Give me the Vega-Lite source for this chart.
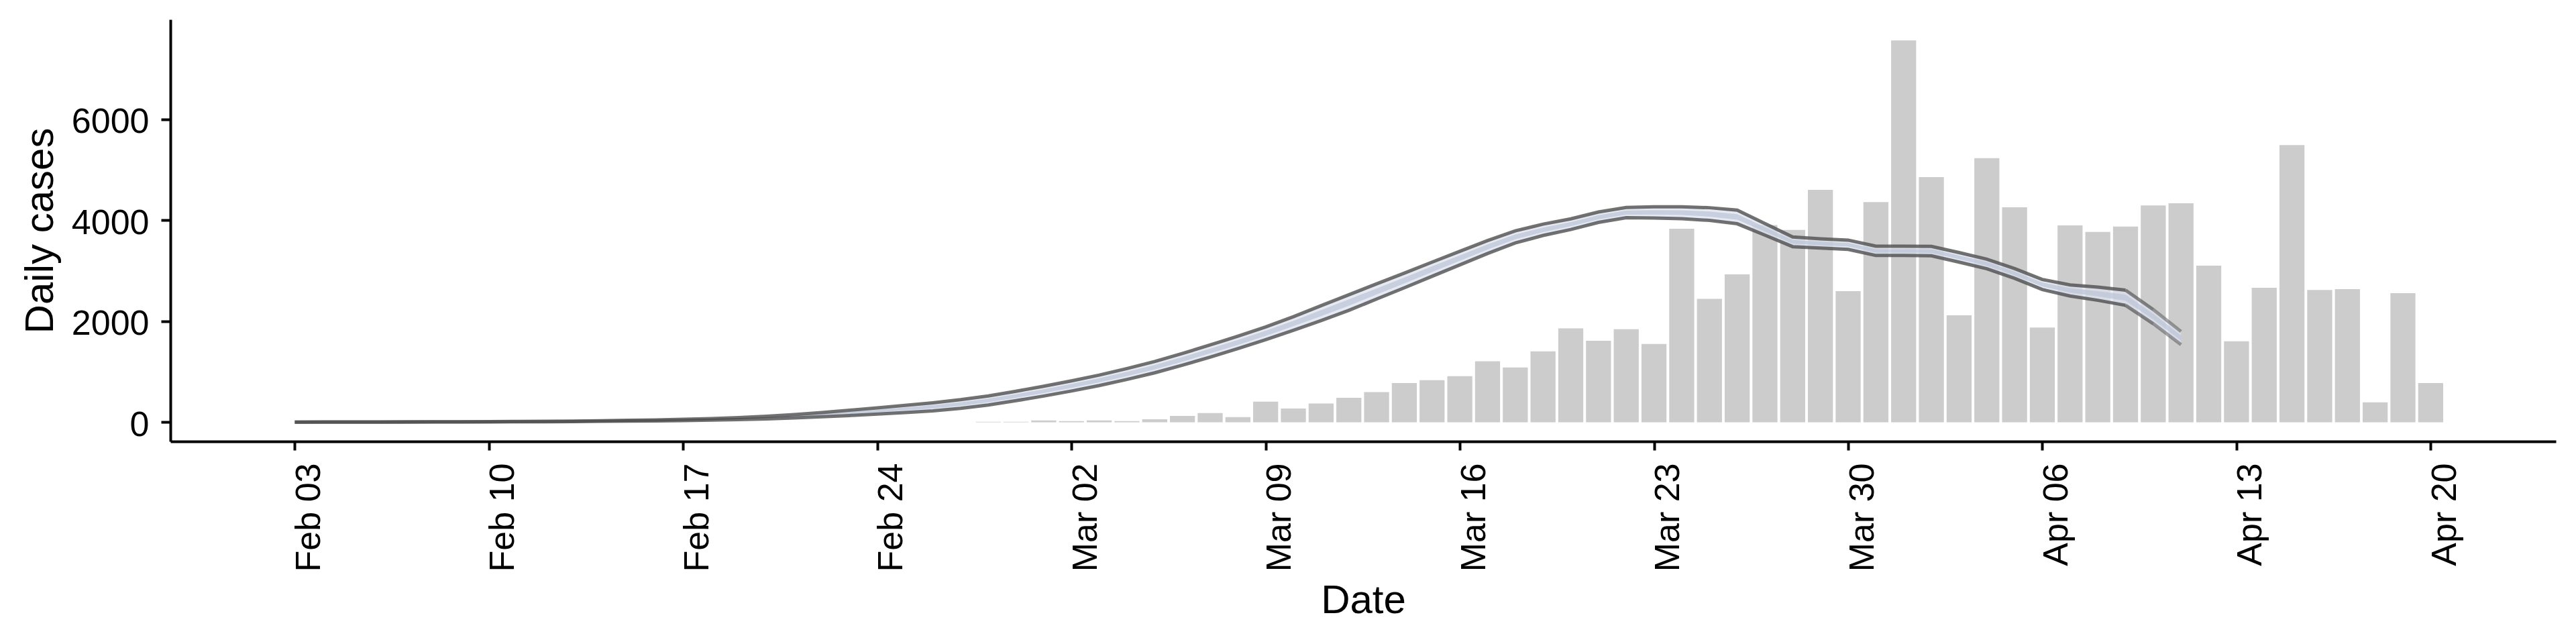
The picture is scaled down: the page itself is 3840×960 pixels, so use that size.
{
  "$schema": "https://vega.github.io/schema/vega-lite/v6.json",
  "width": 3556,
  "height": 629,
  "autosize": {"type": "none"},
  "padding": {"left": 254, "top": 29, "right": 30, "bottom": 302},
  "background": "white",
  "config": {
    "view": {"stroke": null},
    "font": "Liberation Sans",
    "axis": {
      "grid": false,
      "domainColor": "black",
      "domainWidth": 4,
      "tickColor": "black",
      "tickWidth": 4,
      "tickSize": 14,
      "labelFont": "Liberation Sans",
      "labelFontSize": 52,
      "labelColor": "black",
      "titleFont": "Liberation Sans",
      "titleFontSize": 60,
      "titleFontWeight": "normal",
      "titleColor": "black"
    }
  },
  "datasets": {
    "band": [
      {"date": "2020-02-03", "seg": "a", "lo95": 1, "hi95": 3, "lo50": 1.6, "hi50": 2.4},
      {"date": "2020-02-04", "seg": "a", "lo95": 2, "hi95": 4, "lo50": 2.6, "hi50": 3.4},
      {"date": "2020-02-05", "seg": "a", "lo95": 2, "hi95": 4, "lo50": 2.6, "hi50": 3.4},
      {"date": "2020-02-06", "seg": "a", "lo95": 3, "hi95": 5, "lo50": 3.6, "hi50": 4.4},
      {"date": "2020-02-07", "seg": "a", "lo95": 3, "hi95": 7, "lo50": 4.2, "hi50": 5.8},
      {"date": "2020-02-08", "seg": "a", "lo95": 4, "hi95": 8, "lo50": 5.2, "hi50": 6.8},
      {"date": "2020-02-09", "seg": "a", "lo95": 5, "hi95": 9, "lo50": 6.2, "hi50": 7.8},
      {"date": "2020-02-10", "seg": "a", "lo95": 6, "hi95": 12, "lo50": 7.8, "hi50": 10.2},
      {"date": "2020-02-11", "seg": "a", "lo95": 8, "hi95": 14, "lo50": 9.8, "hi50": 12.2},
      {"date": "2020-02-12", "seg": "a", "lo95": 10, "hi95": 18, "lo50": 12.4, "hi50": 15.6},
      {"date": "2020-02-13", "seg": "a", "lo95": 13, "hi95": 23, "lo50": 16, "hi50": 20},
      {"date": "2020-02-14", "seg": "a", "lo95": 17, "hi95": 29, "lo50": 20.6, "hi50": 25.4},
      {"date": "2020-02-15", "seg": "a", "lo95": 21, "hi95": 37, "lo50": 25.8, "hi50": 32.2},
      {"date": "2020-02-16", "seg": "a", "lo95": 26, "hi95": 46, "lo50": 32, "hi50": 40},
      {"date": "2020-02-17", "seg": "a", "lo95": 32, "hi95": 58, "lo50": 39.8, "hi50": 50.2},
      {"date": "2020-02-18", "seg": "a", "lo95": 41, "hi95": 73, "lo50": 50.6, "hi50": 63.4},
      {"date": "2020-02-19", "seg": "a", "lo95": 52, "hi95": 92, "lo50": 64, "hi50": 80},
      {"date": "2020-02-20", "seg": "a", "lo95": 66, "hi95": 118, "lo50": 81.6, "hi50": 102.4},
      {"date": "2020-02-21", "seg": "a", "lo95": 85, "hi95": 151, "lo50": 104.8, "hi50": 131.2},
      {"date": "2020-02-22", "seg": "a", "lo95": 108, "hi95": 192, "lo50": 133.2, "hi50": 166.8},
      {"date": "2020-02-23", "seg": "a", "lo95": 133, "hi95": 237, "lo50": 164.2, "hi50": 205.8},
      {"date": "2020-02-24", "seg": "a", "lo95": 160, "hi95": 284, "lo50": 197.2, "hi50": 246.8},
      {"date": "2020-02-25", "seg": "a", "lo95": 190, "hi95": 334, "lo50": 233.2, "hi50": 290.8},
      {"date": "2020-02-26", "seg": "a", "lo95": 225, "hi95": 385, "lo50": 273, "hi50": 337},
      {"date": "2020-02-27", "seg": "a", "lo95": 274, "hi95": 446, "lo50": 325.6, "hi50": 394.4},
      {"date": "2020-02-28", "seg": "a", "lo95": 340, "hi95": 520, "lo50": 394, "hi50": 466},
      {"date": "2020-02-29", "seg": "a", "lo95": 426, "hi95": 614, "lo50": 482.4, "hi50": 557.6},
      {"date": "2020-03-01", "seg": "a", "lo95": 518, "hi95": 712, "lo50": 576.2, "hi50": 653.8},
      {"date": "2020-03-02", "seg": "a", "lo95": 618, "hi95": 818, "lo50": 678, "hi50": 758},
      {"date": "2020-03-03", "seg": "a", "lo95": 726, "hi95": 934, "lo50": 788.4, "hi50": 871.6},
      {"date": "2020-03-04", "seg": "a", "lo95": 847, "hi95": 1063, "lo50": 911.8, "hi50": 998.2},
      {"date": "2020-03-05", "seg": "a", "lo95": 978, "hi95": 1202, "lo50": 1045.2, "hi50": 1134.8},
      {"date": "2020-03-06", "seg": "a", "lo95": 1129, "hi95": 1361, "lo50": 1198.6, "hi50": 1291.4},
      {"date": "2020-03-07", "seg": "a", "lo95": 1290, "hi95": 1530, "lo50": 1362, "hi50": 1458},
      {"date": "2020-03-08", "seg": "a", "lo95": 1457, "hi95": 1703, "lo50": 1530.8, "hi50": 1629.2},
      {"date": "2020-03-09", "seg": "a", "lo95": 1634, "hi95": 1886, "lo50": 1709.6, "hi50": 1810.4},
      {"date": "2020-03-10", "seg": "a", "lo95": 1820, "hi95": 2090, "lo50": 1901, "hi50": 2009},
      {"date": "2020-03-11", "seg": "a", "lo95": 2012, "hi95": 2308, "lo50": 2100.8, "hi50": 2219.2},
      {"date": "2020-03-12", "seg": "a", "lo95": 2215, "hi95": 2525, "lo50": 2308, "hi50": 2432},
      {"date": "2020-03-13", "seg": "a", "lo95": 2440, "hi95": 2740, "lo50": 2530, "hi50": 2650},
      {"date": "2020-03-14", "seg": "a", "lo95": 2662, "hi95": 2952, "lo50": 2749, "hi50": 2865},
      {"date": "2020-03-15", "seg": "a", "lo95": 2890, "hi95": 3170, "lo50": 2974, "hi50": 3086},
      {"date": "2020-03-16", "seg": "a", "lo95": 3115, "hi95": 3385, "lo50": 3196, "hi50": 3304},
      {"date": "2020-03-17", "seg": "a", "lo95": 3342, "hi95": 3598, "lo50": 3418.8, "hi50": 3521.2},
      {"date": "2020-03-18", "seg": "a", "lo95": 3550, "hi95": 3790, "lo50": 3622, "hi50": 3718},
      {"date": "2020-03-19", "seg": "a", "lo95": 3698, "hi95": 3922, "lo50": 3765.2, "hi50": 3854.8},
      {"date": "2020-03-20", "seg": "a", "lo95": 3816, "hi95": 4028, "lo50": 3879.6, "hi50": 3964.4},
      {"date": "2020-03-21", "seg": "a", "lo95": 3957, "hi95": 4163, "lo50": 4018.8, "hi50": 4101.2},
      {"date": "2020-03-22", "seg": "a", "lo95": 4049, "hi95": 4253, "lo50": 4110.2, "hi50": 4191.8},
      {"date": "2020-03-23", "seg": "a", "lo95": 4045, "hi95": 4265, "lo50": 4111, "hi50": 4199},
      {"date": "2020-03-24", "seg": "a", "lo95": 4032, "hi95": 4266, "lo50": 4102.2, "hi50": 4195.8},
      {"date": "2020-03-25", "seg": "a", "lo95": 3996, "hi95": 4248, "lo50": 4071.6, "hi50": 4172.4},
      {"date": "2020-03-26", "seg": "a", "lo95": 3930, "hi95": 4200, "lo50": 4011, "hi50": 4119},
      {"date": "2020-03-27", "seg": "a", "lo95": 3705, "hi95": 3935, "lo50": 3774, "hi50": 3866},
      {"date": "2020-03-28", "seg": "a", "lo95": 3477, "hi95": 3667, "lo50": 3534, "hi50": 3610},
      {"date": "2020-03-29", "seg": "a", "lo95": 3448, "hi95": 3632, "lo50": 3503.2, "hi50": 3576.8},
      {"date": "2020-03-30", "seg": "a", "lo95": 3423, "hi95": 3607, "lo50": 3478.2, "hi50": 3551.8},
      {"date": "2020-03-31", "seg": "a", "lo95": 3302, "hi95": 3486, "lo50": 3357.2, "hi50": 3430.8},
      {"date": "2020-04-01", "seg": "a", "lo95": 3302, "hi95": 3486, "lo50": 3357.2, "hi50": 3430.8},
      {"date": "2020-04-02", "seg": "a", "lo95": 3297, "hi95": 3483, "lo50": 3352.8, "hi50": 3427.2},
      {"date": "2020-04-03", "seg": "a", "lo95": 3171, "hi95": 3359, "lo50": 3227.4, "hi50": 3302.6},
      {"date": "2020-04-04", "seg": "a", "lo95": 3039, "hi95": 3229, "lo50": 3096, "hi50": 3172},
      {"date": "2020-04-05", "seg": "a", "lo95": 2850, "hi95": 3042, "lo50": 2907.6, "hi50": 2984.4},
      {"date": "2020-04-06", "seg": "a", "lo95": 2627, "hi95": 2827, "lo50": 2687, "hi50": 2767},
      {"date": "2020-04-07", "seg": "a", "lo95": 2500, "hi95": 2720, "lo50": 2566, "hi50": 2654},
      {"date": "2020-04-08", "seg": "a", "lo95": 2415, "hi95": 2675, "lo50": 2493, "hi50": 2597},
      {"date": "2020-04-09", "seg": "a", "lo95": 2315, "hi95": 2615, "lo50": 2405, "hi50": 2525},
      {"date": "2020-04-09", "seg": "b", "lo95": 2315, "hi95": 2615, "lo50": 2405, "hi50": 2525},
      {"date": "2020-04-10", "seg": "b", "lo95": 1950, "hi95": 2230, "lo50": 2034, "hi50": 2146},
      {"date": "2020-04-10", "seg": "c", "lo95": 1950, "hi95": 2230, "lo50": 2034, "hi50": 2146},
      {"date": "2020-04-11", "seg": "c", "lo95": 1537, "hi95": 1797, "lo50": 1615, "hi50": 1719}
    ],
    "cases": [
      {"date": "2020-02-28", "cases": 9},
      {"date": "2020-02-29", "cases": 9},
      {"date": "2020-03-01", "cases": 35},
      {"date": "2020-03-02", "cases": 22},
      {"date": "2020-03-03", "cases": 35},
      {"date": "2020-03-04", "cases": 22},
      {"date": "2020-03-05", "cases": 60},
      {"date": "2020-03-06", "cases": 125},
      {"date": "2020-03-07", "cases": 182},
      {"date": "2020-03-08", "cases": 102},
      {"date": "2020-03-09", "cases": 408},
      {"date": "2020-03-10", "cases": 271},
      {"date": "2020-03-11", "cases": 369},
      {"date": "2020-03-12", "cases": 483},
      {"date": "2020-03-13", "cases": 597},
      {"date": "2020-03-14", "cases": 776},
      {"date": "2020-03-15", "cases": 833},
      {"date": "2020-03-16", "cases": 913},
      {"date": "2020-03-17", "cases": 1206},
      {"date": "2020-03-18", "cases": 1085},
      {"date": "2020-03-19", "cases": 1403},
      {"date": "2020-03-20", "cases": 1858},
      {"date": "2020-03-21", "cases": 1614},
      {"date": "2020-03-22", "cases": 1842},
      {"date": "2020-03-23", "cases": 1550},
      {"date": "2020-03-24", "cases": 3831},
      {"date": "2020-03-25", "cases": 2443},
      {"date": "2020-03-26", "cases": 2929},
      {"date": "2020-03-27", "cases": 3905},
      {"date": "2020-03-28", "cases": 3807},
      {"date": "2020-03-29", "cases": 4603},
      {"date": "2020-03-30", "cases": 2596},
      {"date": "2020-03-31", "cases": 4359},
      {"date": "2020-04-01", "cases": 7562},
      {"date": "2020-04-02", "cases": 4855},
      {"date": "2020-04-03", "cases": 2118},
      {"date": "2020-04-04", "cases": 5230},
      {"date": "2020-04-05", "cases": 4255},
      {"date": "2020-04-06", "cases": 1875},
      {"date": "2020-04-07", "cases": 3898},
      {"date": "2020-04-08", "cases": 3767},
      {"date": "2020-04-09", "cases": 3873},
      {"date": "2020-04-10", "cases": 4294},
      {"date": "2020-04-11", "cases": 4335},
      {"date": "2020-04-12", "cases": 3100},
      {"date": "2020-04-13", "cases": 1604},
      {"date": "2020-04-14", "cases": 2661},
      {"date": "2020-04-15", "cases": 5490},
      {"date": "2020-04-16", "cases": 2620},
      {"date": "2020-04-17", "cases": 2636},
      {"date": "2020-04-18", "cases": 393},
      {"date": "2020-04-19", "cases": 2555},
      {"date": "2020-04-20", "cases": 776}
    ]
  },
  "encoding": {
    "x": {
      "field": "date",
      "type": "temporal",
      "title": "Date",
      "scale": {
        "type": "utc",
        "nice": false,
        "domain": [
          {"year": 2020, "month": 1, "date": 29, "hours": 15, "minutes": 16, "utc": true},
          {"year": 2020, "month": 4, "date": 24, "hours": 9, "minutes": 26, "utc": true}
        ]
      },
      "axis": {
        "values": [
          {"year": 2020, "month": 2, "date": 3, "utc": true},
          {"year": 2020, "month": 2, "date": 10, "utc": true},
          {"year": 2020, "month": 2, "date": 17, "utc": true},
          {"year": 2020, "month": 2, "date": 24, "utc": true},
          {"year": 2020, "month": 3, "date": 2, "utc": true},
          {"year": 2020, "month": 3, "date": 9, "utc": true},
          {"year": 2020, "month": 3, "date": 16, "utc": true},
          {"year": 2020, "month": 3, "date": 23, "utc": true},
          {"year": 2020, "month": 3, "date": 30, "utc": true},
          {"year": 2020, "month": 4, "date": 6, "utc": true},
          {"year": 2020, "month": 4, "date": 13, "utc": true},
          {"year": 2020, "month": 4, "date": 20, "utc": true}
        ],
        "labelExpr": "utcFormat(datum.value, '%b %d')",
        "labelAngle": -90,
        "labelAlign": "right",
        "labelBaseline": "top",
        "labelOffset": -4,
        "labelPadding": 19,
        "tickSize": 13,
        "labelFlush": false,
        "labelOverlap": false,
        "titleBaseline": "alphabetic",
        "titleAlign": "center",
        "titleAngle": 0,
        "titleX": 1778,
        "titleY": 255
      }
    }
  },
  "layer": [
    {
      "data": {"name": "cases"},
      "mark": {"type": "bar", "color": "#cccccc", "width": 37.3},
      "encoding": {
        "y": {
          "field": "cases",
          "type": "quantitative",
          "title": "Daily cases",
          "scale": {"domain": [-380, 7976], "nice": false, "zero": false},
          "axis": {
            "values": [0, 2000, 4000, 6000],
            "format": "d",
            "labelPadding": 18,
            "labelOffset": 4,
            "titleAngle": 270,
            "titleBaseline": "alphabetic",
            "titleAlign": "center",
            "titleX": -176,
            "titleY": 314.5
          }
        }
      }
    },
    {
      "data": {"name": "band"},
      "mark": {"type": "area", "color": "#dde2ee", "opacity": 0.75},
      "encoding": {
        "y": {"field": "lo95", "type": "quantitative", "title": "Daily cases"},
        "y2": {"field": "hi95"}
      }
    },
    {
      "data": {"name": "band"},
      "mark": {"type": "area", "color": "#bbc4d8", "opacity": 0.7},
      "encoding": {
        "y": {"field": "lo50", "type": "quantitative", "title": "Daily cases"},
        "y2": {"field": "hi50"}
      }
    },
    {
      "data": {"name": "band"},
      "transform": [{"fold": ["lo95", "hi95"], "as": ["edge", "v"]}],
      "mark": {"type": "line", "color": "#4d4d4d", "strokeWidth": 5},
      "encoding": {
        "y": {"field": "v", "type": "quantitative", "title": "Daily cases"},
        "detail": {"field": "edge"},
        "opacity": {
          "field": "seg",
          "type": "nominal",
          "scale": {"domain": ["a", "b", "c"], "range": [0.8, 0.5, 0.3]},
          "legend": null
        }
      }
    }
  ]
}
